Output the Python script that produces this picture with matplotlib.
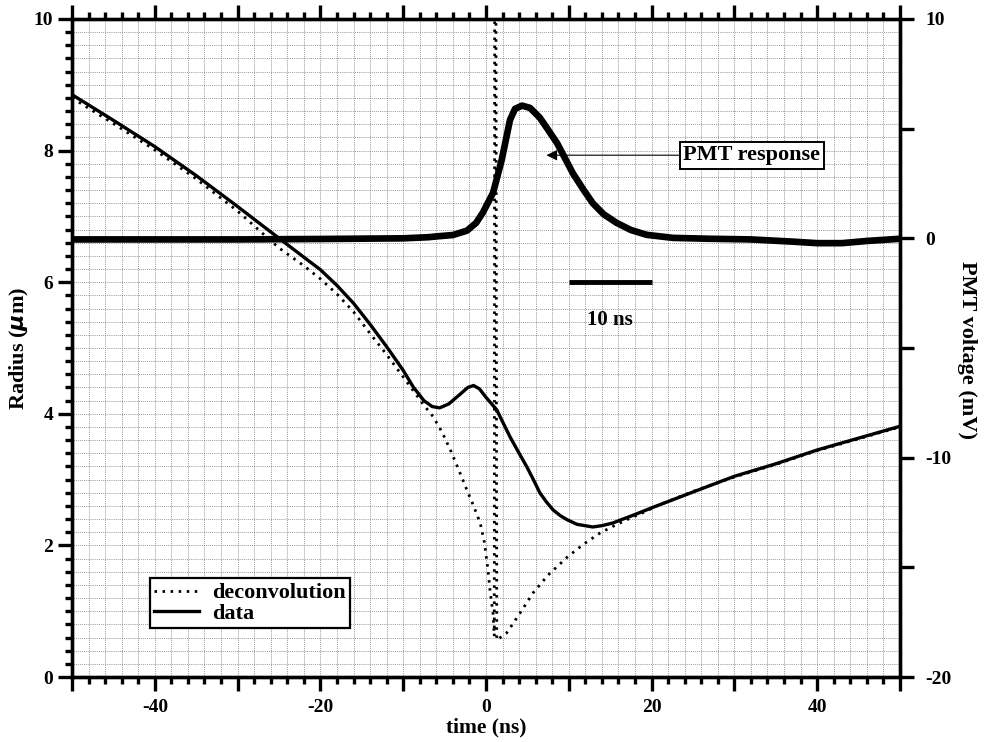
import matplotlib
matplotlib.use("Agg")
import matplotlib.pyplot as plt
from matplotlib.ticker import MultipleLocator, FuncFormatter

# measured data curve (time in ns, radius in um)
data_t = [-50, -45, -40, -35, -30, -27, -24.5, -22, -20, -18, -16, -14, -12, -10,
          -8.8, -7.5, -6.5, -5.6, -4.5, -3.1, -2.2, -1.5, -0.8, 0, 1.3, 2.0, 2.9,
          4.0, 4.95, 5.8, 6.5, 7.3, 8.1, 9.0, 9.8, 11, 12.9, 14, 15.3, 17.8, 20.2,
          25.6, 30, 35, 40, 45, 50]
data_r = [8.85, 8.46, 8.06, 7.62, 7.15, 6.86, 6.62, 6.38, 6.19, 5.95, 5.68, 5.36,
          5.02, 4.66, 4.41, 4.20, 4.11, 4.09, 4.15, 4.30, 4.40, 4.43, 4.38, 4.25,
          4.06, 3.88, 3.65, 3.40, 3.19, 2.98, 2.80, 2.66, 2.54, 2.45, 2.39, 2.32,
          2.28, 2.30, 2.34, 2.46, 2.58, 2.84, 3.05, 3.24, 3.45, 3.63, 3.81]

# deconvolved radius
deconv_t = [-50, -45, -40, -35, -30, -25, -22, -20, -18, -16, -14, -12, -10, -8.6,
            -7.5, -6.4, -5.3, -4.3, -3.3, -2.3, -1.5, -0.7, -0.2, 0.2, 0.5, 0.85,
            1.0, 1.05, 1.2, 1.3, 2.5, 4.0, 5.7, 7.5, 9.8, 11.8, 13.8, 15.5, 17,
            19, 21, 25, 30, 35, 40, 45, 50]
deconv_r = [8.80, 8.41, 8.01, 7.57, 7.08, 6.52, 6.25, 6.05, 5.82, 5.55, 5.22, 4.90,
            4.56, 4.32, 4.13, 3.96, 3.72, 3.45, 3.15, 2.84, 2.60, 2.34, 2.05, 1.67,
            1.30, 0.97, 0.62, 10.5, 10.5, 0.56, 0.67, 0.95, 1.28, 1.55, 1.82, 2.02,
            2.19, 2.30, 2.39, 2.50, 2.62, 2.82, 3.04, 3.23, 3.44, 3.62, 3.80]

# PMT voltage (mV)
pmt_t = [-50, -40, -30, -20, -10, -7, -5.6, -4, -2.3, -1.2, -0.4, 0.85, 1.9, 2.9,
         3.5, 4.35, 5.3, 6.5, 7.5, 8.6, 10.5, 11.8, 12.9, 14.2, 15.8, 17.5, 19.4,
         22.6, 27, 32, 37, 40, 43, 46, 50]
pmt_v = [-0.05, -0.05, -0.05, -0.03, 0.0, 0.05, 0.1, 0.15, 0.35, 0.7, 1.16, 2.07,
         3.58, 5.4, 5.9, 6.05, 5.95, 5.5, 4.95, 4.33, 2.96, 2.2, 1.6, 1.1, 0.70,
         0.38, 0.16, 0.02, -0.02, -0.05, -0.15, -0.22, -0.22, -0.12, -0.02]

plt.rcParams["font.family"] = "Liberation Serif"
plt.rcParams["font.weight"] = "bold"

fig = plt.figure(figsize=(9.84, 7.42), dpi=100)
ax = fig.add_axes([0.0732, 0.0876, 0.8414, 0.8868])
ax2 = ax.twinx()

ax.plot(deconv_t, deconv_r, color="black", lw=2.0, linestyle=(0, (0.9, 2.0)),
        label="deconvolution", zorder=3)
ax.plot(data_t, data_r, color="black", lw=2.4, label="data", zorder=4)
ax2.plot(pmt_t, pmt_v, color="black", lw=4.8, solid_capstyle="butt")

ax.set_xlim(-50, 50)
ax.set_ylim(0, 10)
ax2.set_ylim(-20, 10)

# ticks
ax.xaxis.set_major_locator(MultipleLocator(10))
ax.xaxis.set_minor_locator(MultipleLocator(2))
ax.xaxis.set_major_formatter(FuncFormatter(lambda v, p: f"{v:.0f}" if round(v) % 20 == 0 else ""))
ax.yaxis.set_major_locator(MultipleLocator(2))
ax.yaxis.set_minor_locator(MultipleLocator(0.2))
ax.tick_params(axis="x", which="both", direction="out", top=True, bottom=True,
               labelsize=14, width=2.4)
ax.tick_params(axis="x", which="major", length=10, pad=6)
ax.tick_params(axis="x", which="minor", length=5)
ax.tick_params(axis="y", which="both", direction="out", left=True, right=False,
               labelsize=14, width=2.4)
ax.tick_params(axis="y", which="major", length=10)
ax.tick_params(axis="y", which="minor", length=5)

ax2.yaxis.set_major_locator(MultipleLocator(5))
ax2.yaxis.set_major_formatter(FuncFormatter(lambda v, p: f"{v:.0f}" if round(v) % 10 == 0 else ""))
ax2.tick_params(axis="y", direction="out", length=10, width=2.4, labelsize=14, pad=8)

for a in (ax, ax2):
    for s in a.spines.values():
        s.set_linewidth(2.4)

ax.grid(which="both", color="0.4", linestyle=(0, (1, 1.5)), linewidth=0.55)
ax.set_axisbelow(True)

ax.set_xlabel("time (ns)", fontsize=15.5, fontweight="bold", va="center")
ax.xaxis.set_label_coords(0.5, -0.076)
ax.set_ylabel(r"Radius ($\mu$m)", fontsize=16, fontweight="bold", va="center")
ax.yaxis.set_label_coords(-0.063, 0.5)
ax2.set_ylabel("PMT voltage (mV)", fontsize=16, fontweight="bold", rotation=270,
               va="center")
ax2.yaxis.set_label_coords(1.081, 0.497)

# scale bar
ax.plot([10, 20], [6.0, 6.0], color="black", lw=3.5, solid_capstyle="butt", zorder=5)
ax.text(15, 5.42, "10 ns", ha="center", va="center", fontsize=15, fontweight="bold")

# annotation
ax.annotate("PMT response", xy=(7.3, 7.93), xytext=(32.1, 7.93),
            ha="center", va="center", fontsize=16, fontweight="bold",
            bbox=dict(boxstyle="square,pad=0.15", fc="white", ec="black", lw=1.4),
            arrowprops=dict(arrowstyle="-|>", color="black", lw=0.8,
                            mutation_scale=16, shrinkA=0, shrinkB=0))

leg = ax.legend(loc="lower left", bbox_to_anchor=(0.094, 0.074), borderaxespad=0,
                fontsize=16, fancybox=False, edgecolor="black", framealpha=1,
                handlelength=2.0, borderpad=0.2, labelspacing=0.0, handletextpad=0.6)
leg.get_frame().set_linewidth(1.6)
for t in leg.get_texts():
    t.set_fontweight("bold")

fig.savefig("out.png", dpi=100)
